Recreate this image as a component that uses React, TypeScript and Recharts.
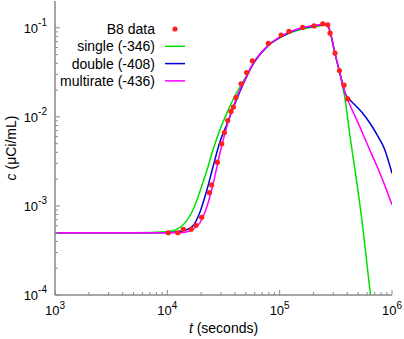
import React from "react";
import { ComposedChart, Line, Scatter, XAxis, YAxis, Legend } from "recharts";

// measured points (t in seconds, c in uCi/mL)
const dataT = [10200, 12400, 13900, 16300, 18000, 20200, 23700, 24800, 27900, 30500, 32200, 34500, 36900, 38700, 40800, 45300, 50800, 57100, 79300, 103000, 121000, 160000, 202000, 242000, 268000, 281000, 311000, 340000, 374000, 404000];
const dataC = [5.0e-4, 5.0e-4, 5.47e-4, 5.47e-4, 6.07e-4, 7.46e-4, 1.41e-3, 1.72e-3, 3.1e-3, 4.98e-3, 6.67e-3, 9.08e-3, 1.15e-2, 1.29e-2, 1.65e-2, 2.35e-2, 3.15e-2, 4.26e-2, 6.67e-2, 8.28e-2, 9.1e-2, 0.101, 0.105, 0.111, 0.108, 0.087, 0.052, 0.0331, 0.0227, 0.0159];

// model curves, sampled on a common time grid
const curveT = [1000, 5000, 10000, 13000, 15000, 17000, 19500, 22500, 25500, 29500, 34000, 39000, 44500, 51000, 58000, 77000, 108000, 152000, 214000, 263000, 279000, 311000, 344000, 382000, 423000, 469000, 537000, 644000, 750000, 850000, 1000000];
const singleC = [5.0e-4, 5.0e-4, 5.13e-4, 5.75e-4, 6.92e-4, 9.12e-4, 1.45e-3, 2.51e-3, 4.27e-3, 7.24e-3, 1.11e-2, 1.62e-2, 2.19e-2, 2.95e-2, 3.98e-2, 6.17e-2, 8.13e-2, 9.55e-2, 0.1035, 0.108, 0.0933, 0.0513, 0.0309, 0.0158, 6.03e-3, 2.51e-3, 7.24e-4, 1.0e-4, 2.19e-5, null, null];
const doubleC = [5.0e-4, 5.0e-4, 5.01e-4, 5.19e-4, 5.43e-4, 6.03e-4, 8.51e-4, 1.51e-3, 2.75e-3, 5.31e-3, 8.32e-3, 1.3e-2, 1.95e-2, 2.85e-2, 3.9e-2, 6.1e-2, 8.2e-2, 9.8e-2, 0.106, 0.111, 0.0933, 0.0513, 0.0309, 0.0185, 0.0155, 0.0136, 0.01135, 8.32e-3, 6.03e-3, 4.47e-3, 2.33e-3];
const multiC = [5.0e-4, 5.0e-4, 5.0e-4, 5.01e-4, 5.13e-4, 5.5e-4, 6.46e-4, 9.77e-4, 1.74e-3, 3.98e-3, 7.94e-3, 1.35e-2, 2.04e-2, 2.88e-2, 3.98e-2, 6.17e-2, 8.32e-2, 9.89e-2, 0.107, 0.111, 0.0933, 0.0513, 0.0309, 0.0186, 0.0135, 0.0102, 6.92e-3, 4.07e-3, 2.63e-3, 1.78e-3, 1.03e-3];

const legendNames = ["B8 data", "single (-346)", "double (-408)", "multirate (-436)"];
const legendColors = ["#ff1f1f", "#00e000", "#0000d0", "#ff00ff"];

const xMajor = [1e3, 1e4, 1e5, 1e6];
const xExp = ["3", "4", "5", "6"];
const yMajor = [1e-4, 1e-3, 1e-2, 1e-1];
const yExp = ["-4", "-3", "-2", "-1"];
const minorSteps = [2, 3, 4, 5, 6, 7, 8, 9];

const X_DOMAIN = [1e3, 1e6];
const Y_DOMAIN = [1e-4, 0.2];
const FONT = '"Liberation Sans", Arial, Helvetica, sans-serif';

function withMinors(majors: number[], max: number) {
  const out: number[] = [];
  majors.forEach((m) => {
    out.push(m);
    minorSteps.forEach((k) => {
      if (m * k < max * 0.999) out.push(m * k);
    });
  });
  return out;
}
const xTicks = withMinors(xMajor, X_DOMAIN[1]);
const yTicks = withMinors(yMajor, Y_DOMAIN[1]);

const toRows = (ts: number[], cs: (number | null)[]) =>
  ts.map((t, i) => ({ t, c: cs[i] })).filter((r) => r.c != null);

const points = toRows(dataT, dataC);
const single = toRows(curveT, singleC);
const double = toRows(curveT, doubleC);
const multi = toRows(curveT, multiC);

function majorIndex(v: number, majors: number[]) {
  return majors.findIndex((m) => Math.abs(Math.log10(v) - Math.log10(m)) < 1e-6);
}

const TICK = "#888";

function BottomTick(props: any) {
  const { x, y, payload } = props;
  const i = majorIndex(payload.value, xMajor);
  const len = i >= 0 ? 5 : 3;
  return (
    <g>
      <line x1={x} x2={x} y1={y} y2={y - len} stroke={TICK} />
      {i >= 0 && (
        <text x={x} y={y + 20} textAnchor="middle" fontSize={13} fontFamily={FONT} fill="#000">
          10<tspan dy={-6} fontSize={10}>{xExp[i]}</tspan>
        </text>
      )}
    </g>
  );
}

function TopTick(props: any) {
  const { x, y, payload } = props;
  const len = majorIndex(payload.value, xMajor) >= 0 ? 5 : 3;
  return <line x1={x} x2={x} y1={y} y2={y + len} stroke={TICK} />;
}

function LeftTick(props: any) {
  const { x, y, payload } = props;
  const i = majorIndex(payload.value, yMajor);
  const len = i >= 0 ? 5 : 3;
  return (
    <g>
      <line x1={x} x2={x + len} y1={y} y2={y} stroke={TICK} />
      {i >= 0 && (
        <text x={x - 8} y={y + 5} textAnchor="end" fontSize={13} fontFamily={FONT} fill="#000">
          10<tspan dy={-7} fontSize={10}>{yExp[i]}</tspan>
        </text>
      )}
    </g>
  );
}

function RightTick(props: any) {
  const { x, y, payload } = props;
  const len = majorIndex(payload.value, yMajor) >= 0 ? 5 : 3;
  return <line x1={x} x2={x - len} y1={y} y2={y} stroke={TICK} />;
}

function XTitle(props: any) {
  const { x, y, width } = props.viewBox;
  return (
    <text x={x + width / 2} y={y + 38} textAnchor="middle" fontSize={14} fontFamily={FONT} fill="#000">
      <tspan fontStyle="italic">t</tspan> (seconds)
    </text>
  );
}

function YTitle(props: any) {
  const { y, height } = props.viewBox;
  const cy = y + height / 2;
  return (
    <text x={16} y={cy} transform={`rotate(-90 16 ${cy})`} textAnchor="middle" fontSize={14} fontFamily={FONT} fill="#000">
      <tspan fontStyle="italic">c</tspan> (μCi/mL)
    </text>
  );
}

function LegendBox() {
  return (
    <svg width={200} height={100} style={{ display: "block" }}>
      {legendNames.map((name, i) => {
        const cy = 29 + i * 17.3;
        return (
          <g key={name}>
            <text x={155} y={cy + 5} textAnchor="end" fontSize={14} fontFamily={FONT} fill="#000">
              {name}
            </text>
            {i === 0 ? (
              <circle cx={175} cy={cy} r={2.6} fill={legendColors[i]} />
            ) : (
              <line x1={165} x2={185} y1={cy} y2={cy} stroke={legendColors[i]} strokeWidth={1.5} />
            )}
          </g>
        );
      })}
    </svg>
  );
}

export default function App() {
  return (
    <div style={{ position: "absolute", left: 0, top: 0, width: 404, height: 339, background: "#fff" }}>
      <ComposedChart width={404} height={339} margin={{ top: 1, right: 12, bottom: 0, left: 0 }}>
        <XAxis
          dataKey="t"
          type="number"
          scale="log"
          domain={X_DOMAIN}
          allowDataOverflow
          ticks={xTicks}
          interval={0}
          height={44}
          tickSize={0}
          tickMargin={0}
          tick={(p: any) => <BottomTick {...p} />}
          axisLine={{ stroke: "#888", strokeWidth: 1.5 }}
          label={<XTitle />}
        />
        <XAxis
          xAxisId="top"
          orientation="top"
          dataKey="t"
          type="number"
          scale="log"
          domain={X_DOMAIN}
          allowDataOverflow
          ticks={xTicks}
          interval={0}
          height={0}
          tickSize={0}
          tickMargin={0}
          tick={(p: any) => <TopTick {...p} />}
          axisLine={{ stroke: "#444" }}
        />
        <YAxis
          dataKey="c"
          type="number"
          scale="log"
          domain={Y_DOMAIN}
          allowDataOverflow
          ticks={yTicks}
          interval={0}
          width={55}
          tickSize={0}
          tickMargin={0}
          tick={(p: any) => <LeftTick {...p} />}
          axisLine={{ stroke: "#888", strokeWidth: 1.5 }}
          label={<YTitle />}
        />
        <YAxis
          yAxisId="right"
          orientation="right"
          dataKey="c"
          type="number"
          scale="log"
          domain={Y_DOMAIN}
          allowDataOverflow
          ticks={yTicks}
          interval={0}
          width={0}
          tickSize={0}
          tickMargin={0}
          tick={(p: any) => <RightTick {...p} />}
          axisLine={{ stroke: "#000" }}
        />
        <Scatter
          name={legendNames[0]}
          data={points}
          dataKey="c"
          fill={legendColors[0]}
          isAnimationActive={false}
          shape={(p: any) => <circle cx={p.cx} cy={p.cy} r={2.6} fill={legendColors[0]} />}
        />
        <Line name={legendNames[1]} data={single} dataKey="c" type="monotone" stroke={legendColors[1]} strokeWidth={1.5} dot={false} isAnimationActive={false} />
        <Line name={legendNames[2]} data={double} dataKey="c" type="monotone" stroke={legendColors[2]} strokeWidth={1.5} dot={false} isAnimationActive={false} />
        <Line name={legendNames[3]} data={multi} dataKey="c" type="monotone" stroke={legendColors[3]} strokeWidth={1.5} dot={false} isAnimationActive={false} />
        <Legend
          layout="vertical"
          align="center"
          verticalAlign="middle"
          wrapperStyle={{ left: 0, top: 0, width: 200, height: 100 }}
          content={() => <LegendBox />}
        />
      </ComposedChart>
    </div>
  );
}
